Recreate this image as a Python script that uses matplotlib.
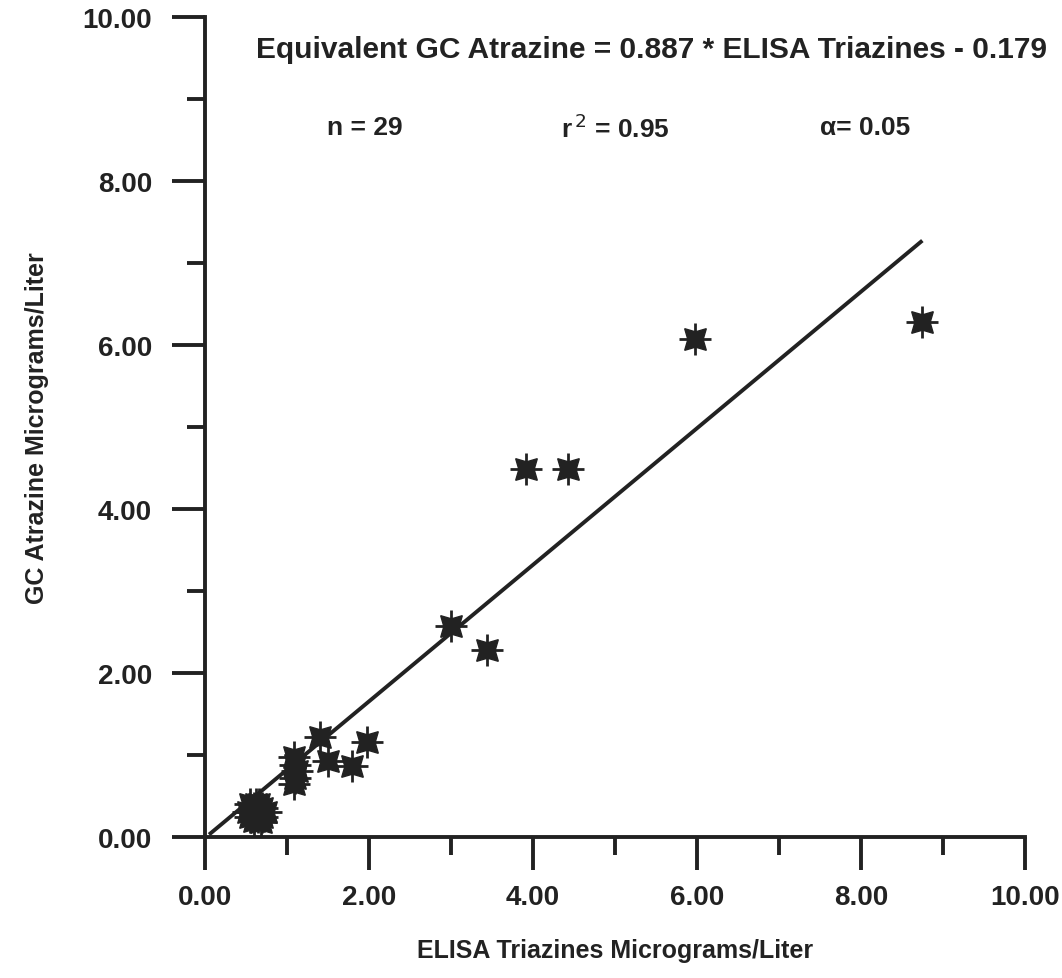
import matplotlib
matplotlib.use("Agg")
import matplotlib.pyplot as plt
from matplotlib.ticker import MultipleLocator, FormatStrFormatter

plt.rcParams['font.family'] = ['Liberation Sans', 'DejaVu Sans']

# ELISA triazines (x) vs GC atrazine (y), micrograms/liter
elisa = [8.75, 5.98, 3.92, 4.43, 3.00, 3.44,
         1.40, 1.98, 1.50, 1.79,
         1.08, 1.10, 1.12, 1.10, 1.08,
         0.55, 0.60, 0.65, 0.70, 0.55, 0.60, 0.65,
         0.70, 0.75, 0.52, 0.62, 0.66, 0.58, 0.68]
gc_atrazine = [6.28, 6.07, 4.48, 4.48, 2.57, 2.28,
               1.22, 1.16, 0.93, 0.87,
               0.98, 0.88, 0.80, 0.72, 0.65,
               0.40, 0.35, 0.30, 0.35, 0.25, 0.20, 0.25,
               0.25, 0.30, 0.30, 0.40, 0.40, 0.30, 0.18]

# regression line as drawn on the original
fit_x = [0.05, 8.75]
fit_y = [0.03, 7.27]

equation = "Equivalent GC Atrazine = 0.887 * ELISA Triazines - 0.179"
stats = ["n = 29", r"r$^{\,2}$ = 0.95", "\u03b1= 0.05"]

fig = plt.figure(figsize=(10.62, 9.79), dpi=100)
ax = fig.add_axes([0.193, 0.144, 0.772, 0.838])

ax.plot(fit_x, fit_y, color='#222222', lw=2.8, solid_capstyle='butt', zorder=2)

# asterisk-like markers: filled 4-point star + cross + centre blob
ax.plot(elisa, gc_atrazine, ls='none', marker=(4, 1, 45), ms=22,
        color='#222222', mec='#222222', zorder=3)
ax.plot(elisa, gc_atrazine, ls='none', marker='+', ms=23, mew=2,
        color='#222222', zorder=3)
ax.plot(elisa, gc_atrazine, ls='none', marker='o', ms=10,
        color='#222222', zorder=3)

ax.set_xlim(0, 10)
ax.set_ylim(0, 10)
ax.xaxis.set_major_locator(MultipleLocator(2))
ax.xaxis.set_minor_locator(MultipleLocator(1))
ax.yaxis.set_major_locator(MultipleLocator(2))
ax.yaxis.set_minor_locator(MultipleLocator(1))
ax.xaxis.set_major_formatter(FormatStrFormatter('%.2f'))
ax.yaxis.set_major_formatter(FormatStrFormatter('%.2f'))

for side in ['top', 'right']:
    ax.spines[side].set_visible(False)
for side in ['left', 'bottom']:
    ax.spines[side].set_linewidth(2.8)
    ax.spines[side].set_color('#222222')

ax.tick_params(which='major', length=24, width=2.8, color='#222222',
               labelsize=20, pad=14)
ax.tick_params(axis='x', which='major', pad=10)
ax.tick_params(which='minor', length=13, width=2.8, color='#222222')
for lab in ax.get_xticklabels() + ax.get_yticklabels():
    lab.set_fontweight('bold')
    lab.set_color('#222222')

ax.set_xlabel("ELISA Triazines Micrograms/Liter", fontsize=18,
              fontweight='bold', color='#222222', labelpad=20)
ax.set_ylabel("GC Atrazine Micrograms/Liter", fontsize=18,
              fontweight='bold', color='#222222', labelpad=24)

ax.text(5.45, 9.6, equation, ha='center', va='center', fontsize=21.5,
        fontweight='bold', color='#222222')
for xpos, s in zip([1.95, 5.0, 8.05], stats):
    ax.text(xpos, 8.65, s, ha='center', va='center', fontsize=19,
            fontweight='bold', color='#222222')

fig.savefig("out.png", dpi=100)
